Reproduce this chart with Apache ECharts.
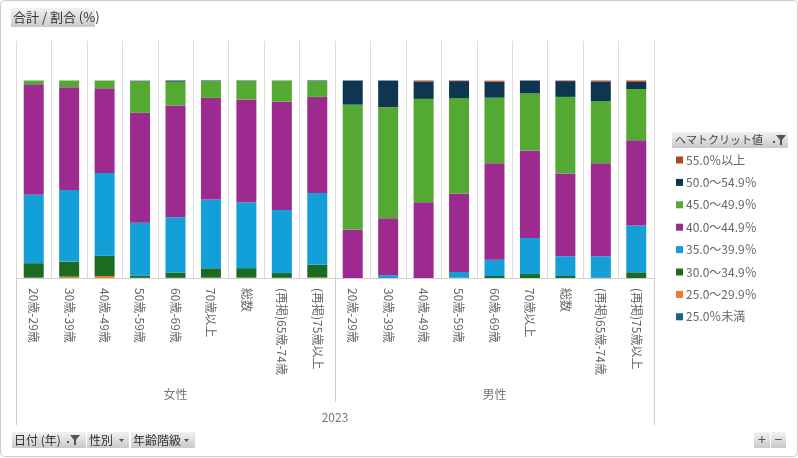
<!DOCTYPE html>
<html>
<head>
<meta charset="utf-8">
<script src="https://cdn.jsdelivr.net/npm/echarts@6/dist/echarts.min.js"></script>
<style>
html,body{margin:0;padding:0;background:#fff;}
#chart{width:798px;height:458px;}
</style>
</head>
<body>
<div id="chart"></div>
<script>
// ---- data ----
const ageLabels = ['20歳-29歳','30歳-39歳','40歳-49歳','50歳-59歳','60歳-69歳','70歳以上','総数','(再掲)65歳-74歳','(再掲)75歳以上'];
const categories = ageLabels.concat(ageLabels); // 女性 9 + 男性 9
const sexGroups = ['女性','男性'];
const yearGroups = ['2023'];
const seriesNames = ['25.0％未満','25.0～29.9％','30.0～34.9％','35.0～39.9％','40.0～44.9％','45.0～49.9％','50.0～54.9％','55.0％以上'];
const seriesColors = ['#1a5f85','#f07a30','#1c6b22','#139fd8','#9c2a8f','#53a932','#0f3651','#b1481c'];

const under25  = [0,0,0,0,0,0,0,0,0,  0,0,0,0,0,0,0,0,0];
const r25_29   = [0.2,0.7,1.0,0.1,0.1,0.2,0.2,0.1,0.3,  0,0,0,0,0,0,0,0,0];
const r30_34   = [7.3,7.6,10.3,1.1,2.7,4.7,4.8,2.4,6.4,  0,0,0,0.2,1.0,2.0,1.0,0.3,2.9];
const r35_39   = [34.7,36.3,41.9,26.8,28.0,34.9,33.4,31.9,36.4,  0,1.4,0,2.9,8.3,18.3,10.0,10.7,23.7];
const r40_44   = [55.9,52.0,42.9,55.6,56.6,51.4,52.0,54.9,48.6,  24.6,28.8,38.3,39.5,48.8,44.2,41.9,47.1,43.2];
const r45_49   = [1.9,3.4,3.9,16.0,12.0,8.5,9.4,10.6,8.0,  63.2,56.3,52.4,48.5,33.2,29.0,38.8,31.5,25.9];
const r50_54   = [0,0,0,0.3,0.6,0.3,0.2,0.1,0.3,  12.2,13.5,8.8,8.6,8.1,6.5,8.0,9.9,3.6];
const over55   = [0,0,0,0,0,0,0,0,0,  0,0,0.5,0.3,0.5,0,0.3,0.5,0.7];
const seriesData = [under25,r25_29,r30_34,r35_39,r40_44,r45_49,r50_54,over55];

// ---- chart ----
const FONT = 'Noto Sans CJK JP';
const chart = echarts.init(document.getElementById('chart'), null, {renderer:'canvas'});

const btnFill = new echarts.graphic.LinearGradient(0,0,0,1,[{offset:0,color:'#f2f2f2'},{offset:1,color:'#c9c9c9'}]);
function funnel(x,y){
  return {type:'polygon', shape:{points:[[x,y],[x+10,y],[x+6,y+5],[x+6,y+10],[x+4,y+10],[x+4,y+5]]}, style:{fill:'#555'}};
}
function caret(x,y){
  return {type:'polygon', shape:{points:[[x,y],[x+5,y],[x+2.5,y+3]]}, style:{fill:'#555'}};
}

const option = {
  animation:false,
  textStyle:{fontFamily:FONT},
  grid:{left:16, right:144, top:41, bottom:180, containLabel:false},
  legend:{
    orient:'vertical', left:676, top:153, padding:0,
    data: seriesNames.slice().reverse(),
    icon:'rect', itemWidth:7, itemHeight:7, itemGap:8.4,
    textStyle:{fontSize:12, color:'#666', fontFamily:FONT, lineHeight:14, padding:[0,0,0,-2]},
    selectedMode:false
  },
  xAxis:[
    {
      type:'category', data:categories, position:'bottom',
      axisLine:{show:true, lineStyle:{color:'#cfcfcf'}},
      axisTick:{show:false},
      splitLine:{show:true, interval:0, lineStyle:{color:'#dcdcdc', width:1}},
      axisLabel:{interval:0, rotate:-90, margin:10, fontSize:12, color:'#666', fontFamily:FONT}
    },
    {
      type:'category', data:sexGroups, position:'bottom', offset:0,
      axisLine:{show:false},
      axisTick:{show:true, interval:0, length:124, lineStyle:{color:'#cfcfcf'}},
      splitLine:{show:false},
      axisLabel:{interval:0, margin:110, fontSize:12, color:'#777', fontFamily:FONT}
    },
    {
      type:'category', data:yearGroups, position:'bottom', offset:0,
      axisLine:{show:false},
      axisTick:{show:true, interval:0, length:147, lineStyle:{color:'#cfcfcf'}},
      splitLine:{show:false},
      axisLabel:{interval:0, margin:133, fontSize:12, color:'#777', fontFamily:FONT}
    }
  ],
  yAxis:{type:'value', min:0, max:120, show:false, splitLine:{show:false}},
  series: seriesNames.map((n,i)=>({
    name:n, type:'bar', stack:'total', barWidth:20, xAxisIndex:0,
    itemStyle:{color:seriesColors[i]},
    data:seriesData[i]
  })),
  color: seriesColors,
  graphic:[
    {type:'rect', shape:{x:0.5,y:0.5,width:797,height:456,r:4}, style:{fill:'none', stroke:'#cccccc', lineWidth:1}, silent:true},
    // title button
    {type:'rect', shape:{x:11,y:8,width:84,height:19}, style:{fill:btnFill}},
    {type:'text', x:13, y:17.5, style:{text:'合計 / 割合 (%)', fontSize:13, fill:'#333', fontFamily:FONT, verticalAlign:'middle'}},
    // legend header
    {type:'rect', shape:{x:672,y:132,width:116,height:16}, style:{fill:btnFill}},
    {type:'text', x:675, y:140, style:{text:'ヘマトクリット値', fontSize:11, fill:'#444', fontFamily:FONT, verticalAlign:'middle'}},
    {type:'rect', shape:{x:773,y:141,width:2,height:2}, style:{fill:'#555'}},
    funnel(776,135),
    // bottom buttons
    {type:'rect', shape:{x:12,y:432,width:74,height:16}, style:{fill:btnFill}},
    {type:'text', x:14, y:440, style:{text:'日付 (年)', fontSize:12, fill:'#333', fontFamily:FONT, verticalAlign:'middle'}},
    {type:'rect', shape:{x:67,y:441,width:2,height:2}, style:{fill:'#555'}},
    funnel(70,435),
    {type:'rect', shape:{x:87,y:432,width:42,height:16}, style:{fill:btnFill}},
    {type:'text', x:89, y:440, style:{text:'性別', fontSize:12, fill:'#333', fontFamily:FONT, verticalAlign:'middle'}},
    caret(119,439),
    {type:'rect', shape:{x:131,y:432,width:64,height:16}, style:{fill:btnFill}},
    {type:'text', x:133, y:440, style:{text:'年齢階級', fontSize:12, fill:'#333', fontFamily:FONT, verticalAlign:'middle'}},
    caret(184,439),
    // zoom buttons
    {type:'rect', shape:{x:754,y:432,width:16,height:16}, style:{fill:btnFill}},
    {type:'text', x:762, y:440, style:{text:'+', fontSize:14, fill:'#555', fontFamily:FONT, align:'center', verticalAlign:'middle'}},
    {type:'rect', shape:{x:771,y:432,width:15,height:16}, style:{fill:btnFill}},
    {type:'text', x:778.5, y:440, style:{text:'−', fontSize:14, fill:'#555', fontFamily:FONT, align:'center', verticalAlign:'middle'}}
  ]
};
chart.setOption(option);
</script>
</body>
</html>
